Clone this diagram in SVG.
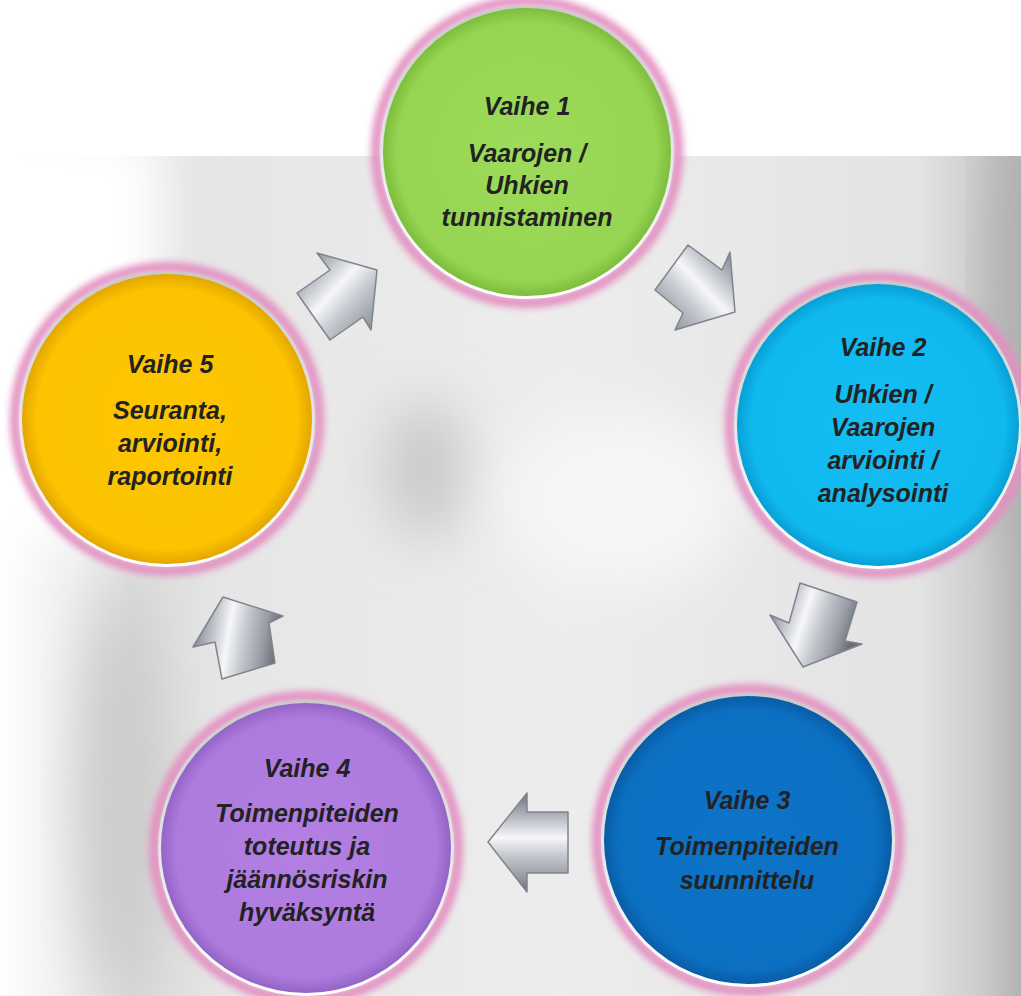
<svg xmlns="http://www.w3.org/2000/svg" width="1021" height="996" viewBox="0 0 1021 996">
<style>
.lbl{font-family:'Liberation Sans',Arial,sans-serif;font-weight:bold;font-style:italic;font-size:25px;fill:#222;text-anchor:middle}
.glow{fill:none;stroke:#e38fc1;stroke-width:10}
.rim{fill:url(#rimG)}
.arr{stroke:#80848c;stroke-width:1.5;stroke-linejoin:round}
</style>
<defs>
<filter id="blurBig" x="-50%" y="-50%" width="200%" height="200%"><feGaussianBlur stdDeviation="28"/></filter>
<filter id="glowF" x="-20%" y="-20%" width="140%" height="140%"><feGaussianBlur stdDeviation="3.5"/></filter>
<clipPath id="bgClip"><rect x="0" y="156" width="1021" height="840"/></clipPath>
<linearGradient id="bgH" x1="0" y1="0" x2="1" y2="0">
<stop offset="0" stop-color="#ffffff"/>
<stop offset="0.07" stop-color="#eeeeee"/>
<stop offset="0.13" stop-color="#d9d9d9"/>
<stop offset="0.22" stop-color="#e6e6e6"/>
<stop offset="0.55" stop-color="#ededed"/>
<stop offset="0.9" stop-color="#e3e3e3"/>
<stop offset="0.96" stop-color="#cdcdcd"/>
<stop offset="1" stop-color="#b3b3b3"/>
</linearGradient>
<linearGradient id="rimG" x1="0" y1="0" x2="0" y2="1">
<stop offset="0" stop-color="#c9c9c9"/>
<stop offset="0.5" stop-color="#e6e6e6"/>
<stop offset="1" stop-color="#ffffff"/>
</linearGradient>
<radialGradient id="gGreen"><stop offset="0" stop-color="#9ddb5a"/><stop offset="0.9" stop-color="#96d552"/><stop offset="1" stop-color="#7dbd3d"/></radialGradient>
<radialGradient id="gCyan"><stop offset="0" stop-color="#14bef3"/><stop offset="0.9" stop-color="#0fb8ee"/><stop offset="1" stop-color="#079fd6"/></radialGradient>
<radialGradient id="gBlue"><stop offset="0" stop-color="#0d74c8"/><stop offset="0.9" stop-color="#0b6fc2"/><stop offset="1" stop-color="#0a5ca6"/></radialGradient>
<radialGradient id="gPurple"><stop offset="0" stop-color="#b37fe3"/><stop offset="0.9" stop-color="#ad7add"/><stop offset="1" stop-color="#9264c6"/></radialGradient>
<radialGradient id="gYellow"><stop offset="0" stop-color="#fdc700"/><stop offset="0.9" stop-color="#fbc300"/><stop offset="1" stop-color="#e4a600"/></radialGradient>
<linearGradient id="silver" x1="0" y1="0" x2="0" y2="1">
<stop offset="0" stop-color="#6f737b"/>
<stop offset="0.22" stop-color="#aeb2ba"/>
<stop offset="0.45" stop-color="#f6f7f9"/>
<stop offset="0.62" stop-color="#c8cbd1"/>
<stop offset="0.85" stop-color="#979ba3"/>
<stop offset="1" stop-color="#6a6e76"/>
</linearGradient>
<linearGradient id="sLeft" href="#silver" x1="0" y1="0" x2="0" y2="1"/>
<linearGradient id="sUp" href="#silver" x1="0" y1="0" x2="1" y2="0.15"/>
<linearGradient id="sDR" href="#silver" x1="1" y1="0" x2="0" y2="1"/>
<linearGradient id="sUR" href="#silver" x1="0" y1="0" x2="1" y2="1"/>
<linearGradient id="sDL" href="#silver" x1="0" y1="0" x2="1" y2="0.3"/>
</defs>

<rect width="1021" height="996" fill="#ffffff"/>
<g id="backdrop" clip-path="url(#bgClip)">
<rect x="0" y="156" width="1021" height="840" fill="url(#bgH)"/>
<rect x="-60" y="120" width="230" height="420" fill="#ffffff" filter="url(#blurBig)"/>
<ellipse cx="425" cy="470" rx="40" ry="70" fill="#c8c8c8" filter="url(#blurBig)"/>
<ellipse cx="620" cy="500" rx="120" ry="90" fill="#f6f6f6" filter="url(#blurBig)"/>
<ellipse cx="120" cy="800" rx="40" ry="200" fill="#cbcbcb" filter="url(#blurBig)"/>
<ellipse cx="1015" cy="330" rx="25" ry="220" fill="#b0b0b0" filter="url(#blurBig)"/>
</g>

<g id="connectors">
<polygon id="a12" class="arr" fill="url(#sDR)" points="688,245 722,270 730,252 735,312 675,330 683,313 655,290"/>
<polygon id="a23" class="arr" fill="url(#sDL)" points="800,583 857,602 845,641 862,644 803,667 770,615 789,623"/>
<polygon id="a34" class="arr" fill="url(#sLeft)" points="527,793 527,812 568,812 568,873 527,873 527,892 488,842"/>
<polygon id="a45" class="arr" fill="url(#sUp)" points="223,597 283,616 269,623 275,663 222,679 215,642 193,647"/>
<polygon id="a51" class="arr" fill="url(#sUR)" points="317,253 377,270 371,330 363,317 330,340 297,293 330,270"/>
</g>

<g id="node1">
<circle class="glow" cx="527" cy="152" r="151" filter="url(#glowF)"/>
<circle class="rim" cx="527" cy="152" r="147"/>
<circle cx="527" cy="152" r="144" fill="url(#gGreen)"/>
<text class="lbl" x="527" y="115">Vaihe 1</text>
<text class="lbl" x="527" y="162">Vaarojen /</text>
<text class="lbl" x="527" y="194">Uhkien</text>
<text class="lbl" x="527" y="226">tunnistaminen</text>
</g>

<g id="node2">
<circle class="glow" cx="878" cy="425" r="148" filter="url(#glowF)"/>
<circle class="rim" cx="878" cy="425" r="144"/>
<circle cx="878" cy="425" r="141" fill="url(#gCyan)"/>
<text class="lbl" x="883" y="356">Vaihe 2</text>
<text class="lbl" x="883" y="403">Uhkien /</text>
<text class="lbl" x="883" y="436">Vaarojen</text>
<text class="lbl" x="883" y="469">arviointi /</text>
<text class="lbl" x="883" y="502">analysointi</text>
</g>

<g id="node3">
<circle class="glow" cx="748" cy="840" r="151" filter="url(#glowF)"/>
<circle class="rim" cx="748" cy="840" r="147"/>
<circle cx="748" cy="840" r="144" fill="url(#gBlue)"/>
<text class="lbl" x="747" y="809">Vaihe 3</text>
<text class="lbl" x="747" y="855">Toimenpiteiden</text>
<text class="lbl" x="747" y="889">suunnittelu</text>
</g>

<g id="node4">
<circle class="glow" cx="306" cy="848" r="152" filter="url(#glowF)"/>
<circle class="rim" cx="306" cy="848" r="148"/>
<circle cx="306" cy="848" r="145" fill="url(#gPurple)"/>
<text class="lbl" x="307" y="777">Vaihe 4</text>
<text class="lbl" x="307" y="822">Toimenpiteiden</text>
<text class="lbl" x="307" y="855">toteutus ja</text>
<text class="lbl" x="307" y="888">jäännösriskin</text>
<text class="lbl" x="307" y="921">hyväksyntä</text>
</g>

<g id="node5">
<circle class="glow" cx="167" cy="419" r="152" filter="url(#glowF)"/>
<circle class="rim" cx="167" cy="419" r="148"/>
<circle cx="167" cy="419" r="145" fill="url(#gYellow)"/>
<text class="lbl" x="170" y="373">Vaihe 5</text>
<text class="lbl" x="170" y="419">Seuranta,</text>
<text class="lbl" x="170" y="452">arviointi,</text>
<text class="lbl" x="170" y="485">raportointi</text>
</g>
</svg>
